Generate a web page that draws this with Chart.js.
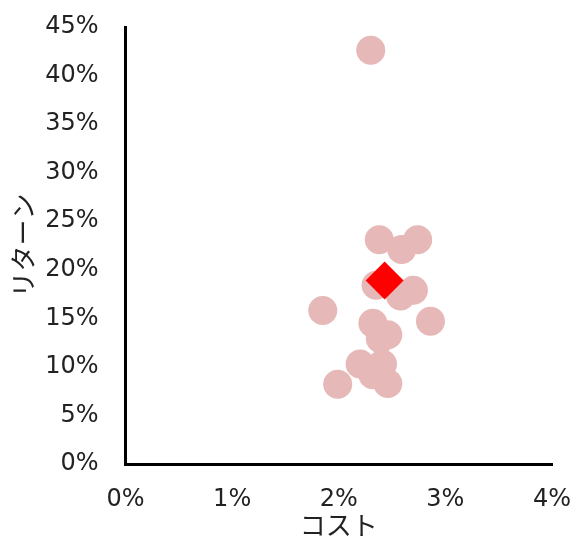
<!DOCTYPE html>
<html>
<head>
<meta charset="utf-8">
<script src="https://cdn.jsdelivr.net/npm/chart.js@4"></script>
<style>
  html, body { margin: 0; padding: 0; background: #fff; }
  #wrap { width: 574px; height: 544px; }
</style>
</head>
<body>
<div id="wrap"><canvas id="chart"></canvas></div>
<script>
// cost (%) and return (%) of each fund
const fundCost = [2.30, 2.38, 2.59, 2.74, 2.35, 2.70, 2.58, 1.85, 2.86, 2.32, 2.46, 2.39, 2.20, 2.41, 2.32, 2.46, 1.99];
const fundReturn = [42.6, 23.1, 22.1, 23.1, 18.4, 17.9, 17.3, 15.8, 14.7, 14.5, 13.3, 12.9, 10.3, 10.3, 9.2, 8.3, 8.2];
// portfolio average
const avgCost = [2.43];
const avgReturn = [18.9];

const xTitle = "コスト";
const yTitle = "リターン";

const font = "'DejaVu Sans', Verdana, 'Noto Sans CJK JP', sans-serif";

const toPoints = (xs, ys) => xs.map((x, i) => ({ x: x, y: ys[i] }));

const ctx = document.getElementById("chart").getContext("2d");
const myChart = new Chart(ctx, {
    type: "scatter",
    data: {
        datasets: [
            {
                label: "平均",
                data: toPoints(avgCost, avgReturn),
                pointStyle: "rectRot",
                pointRadius: 19,
                backgroundColor: "#ff0000",
                borderColor: "#ff0000",
                borderWidth: 0,
                order: 0,
            },
            {
                label: "ファンド",
                data: toPoints(fundCost, fundReturn),
                pointStyle: "circle",
                pointRadius: 14.5,
                backgroundColor: "#e6b8b7",
                borderColor: "#e6b8b7",
                borderWidth: 0,
                order: 1,
            },
        ],
    },
    options: {
        responsive: true,
        maintainAspectRatio: false,
        animation: false,
        layout: { padding: { top: 27, right: 22, bottom: 0, left: 11 } },
        plugins: {
            legend: { display: false },
            tooltip: { enabled: false },
        },
        scales: {
            x: {
                min: 0,
                max: 4,
                grid: { display: false, drawTicks: false },
                border: { display: true, color: "#000", width: 3 },
                ticks: {
                    stepSize: 1,
                    padding: 21,
                    color: "#222",
                    font: { family: font, size: 24 },
                    callback: (v) => v + "%",
                },
                title: {
                    display: true,
                    text: xTitle,
                    color: "#222",
                    padding: { top: -22, bottom: 0 },
                    font: { family: font, size: 26 },
                },
                // tick padding should not push the plot edge in
                afterFit: (scale) => { scale.paddingRight = 0; },
            },
            y: {
                min: 0,
                max: 45,
                grid: { display: false, drawTicks: false },
                border: { display: true, color: "#000", width: 3 },
                ticks: {
                    stepSize: 5,
                    padding: 27,
                    color: "#222",
                    font: { family: font, size: 24 },
                    callback: (v) => v + "%",
                },
                title: {
                    display: true,
                    text: yTitle,
                    color: "#222",
                    padding: { top: 0, bottom: -24 },
                    font: { family: font, size: 26 },
                },
                afterFit: (scale) => { scale.paddingTop = 0; },
            },
        },
    },
});
</script>
</body>
</html>
